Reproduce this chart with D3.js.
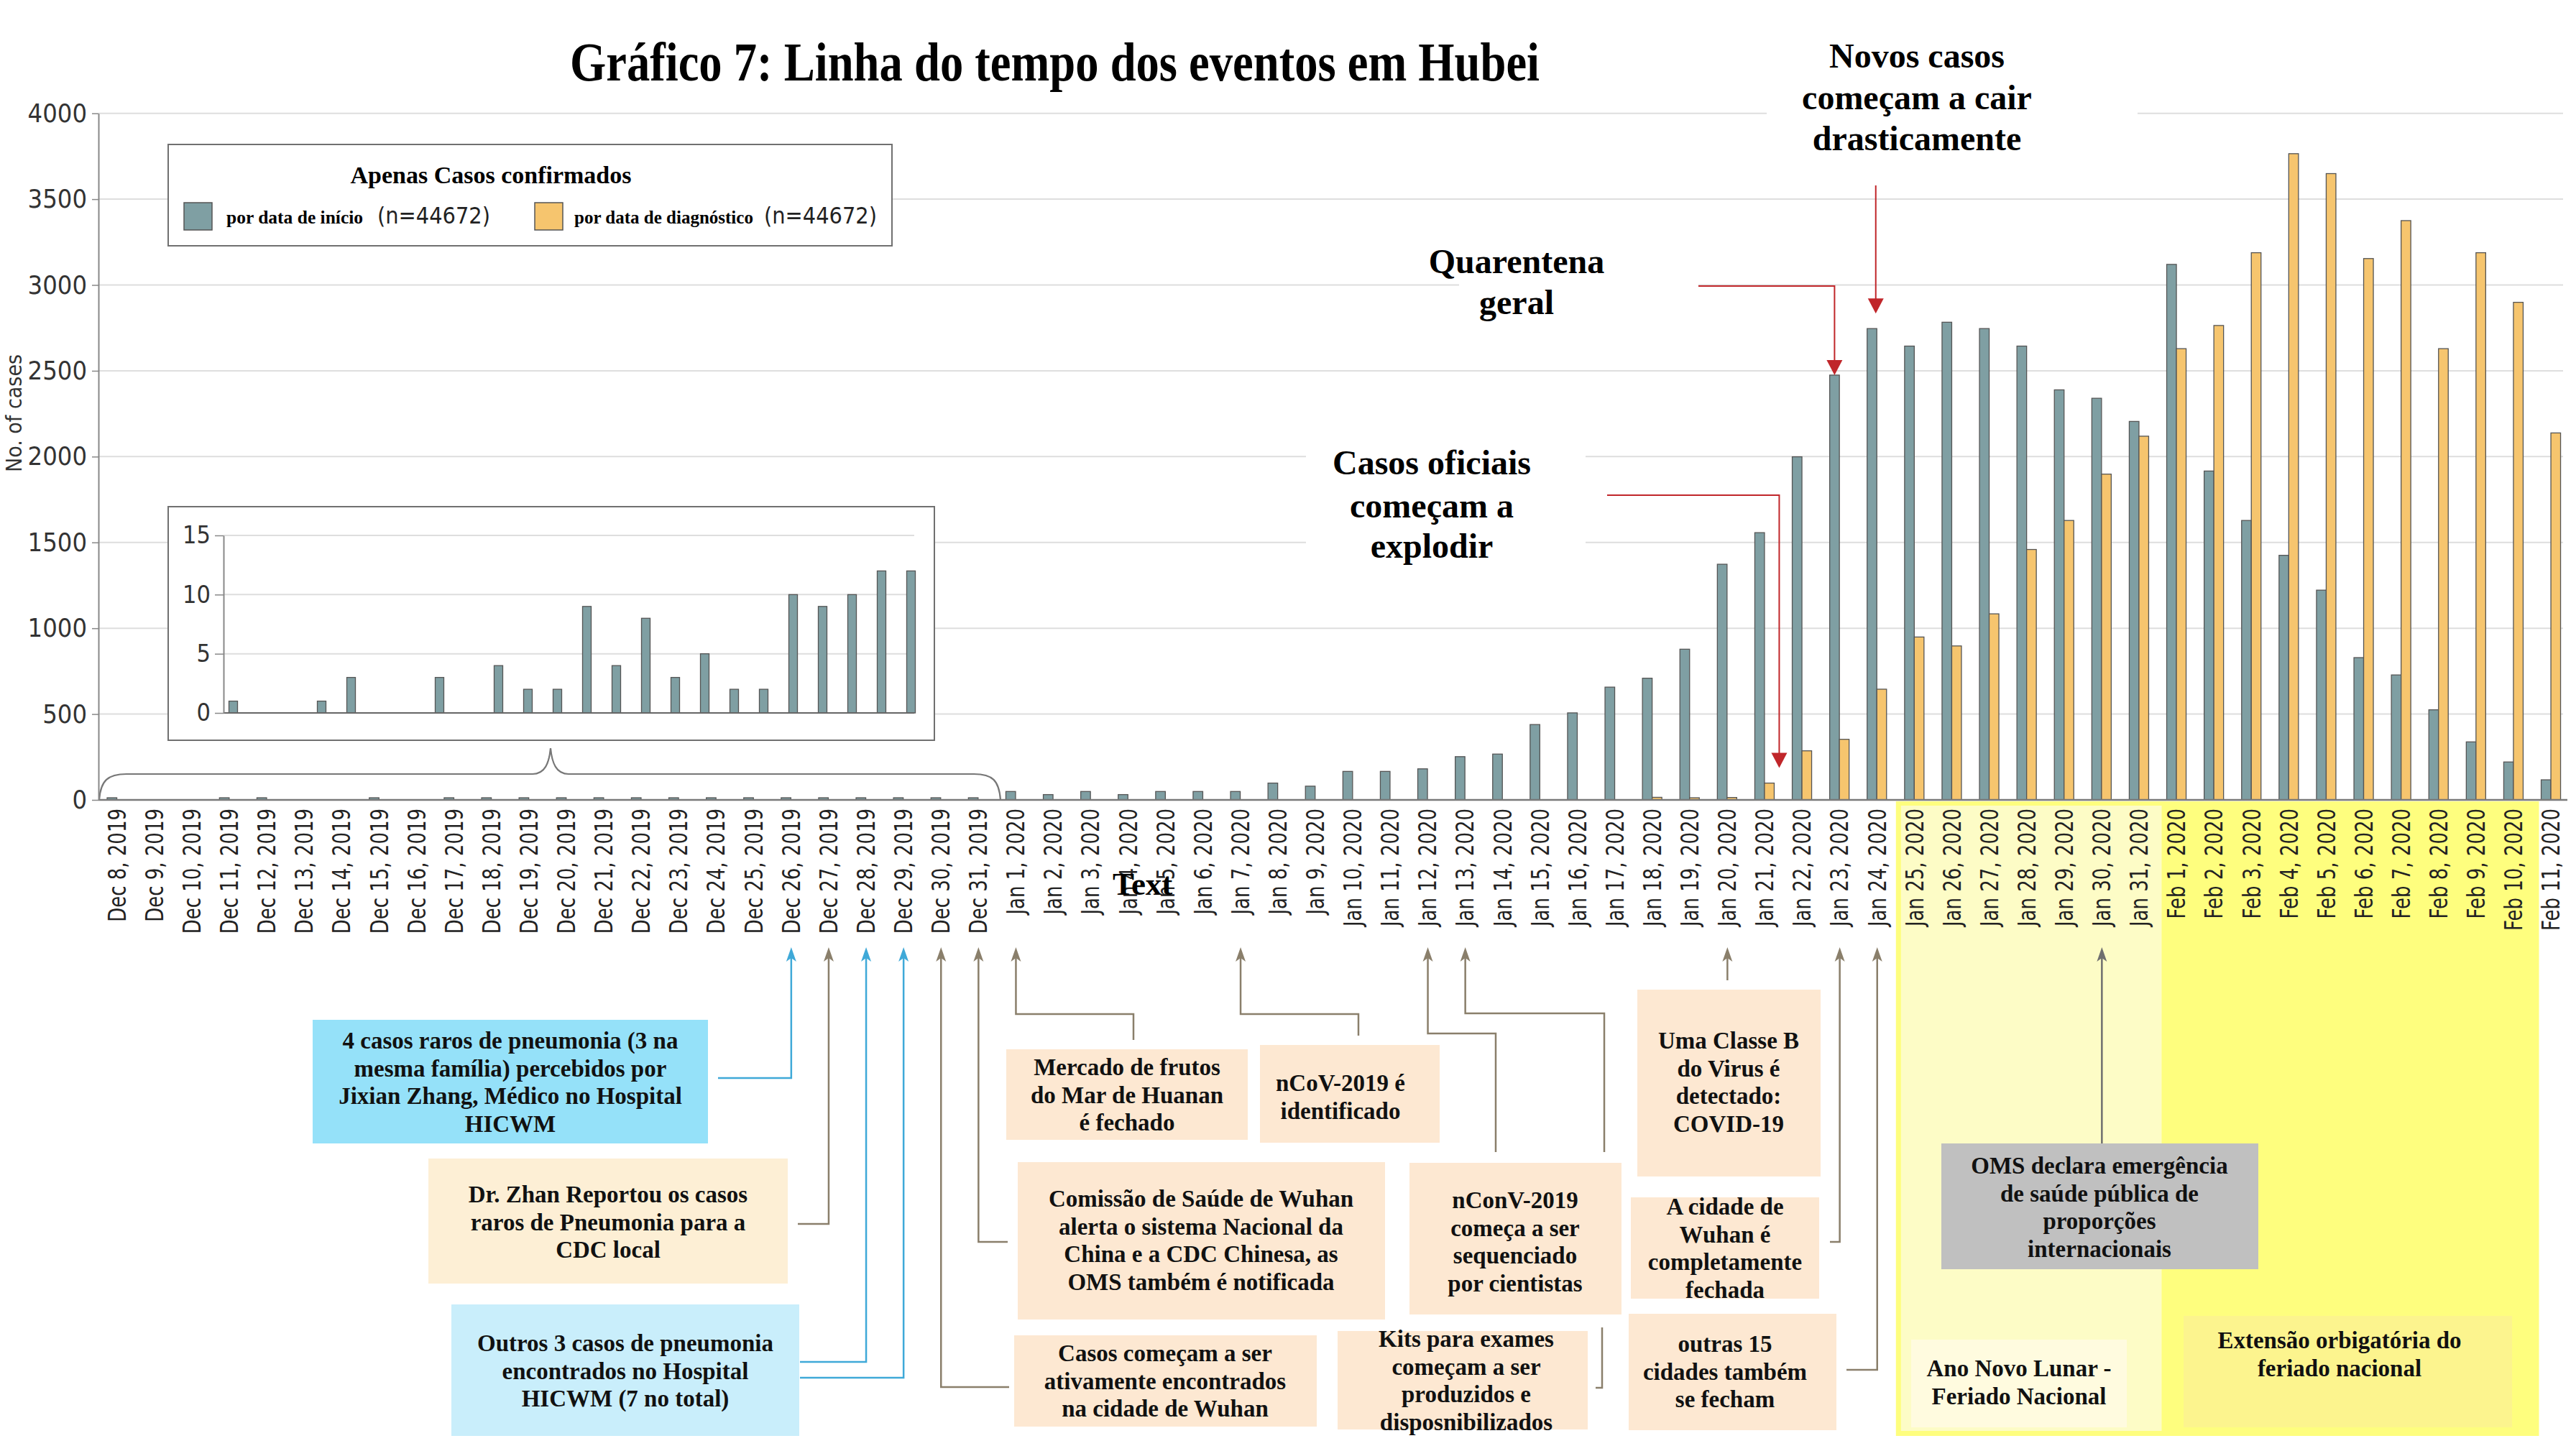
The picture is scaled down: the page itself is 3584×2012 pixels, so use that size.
<!DOCTYPE html>
<html><head><meta charset="utf-8">
<script src="https://cdn.jsdelivr.net/npm/d3@7"></script>
<style>body{margin:0;background:#fff}svg{display:block}</style>
</head><body><svg id="c" width="3584" height="2012"></svg>
<script>
// ---------------- DATA ----------------
const dates = [
 "Dec 8, 2019","Dec 9, 2019","Dec 10, 2019","Dec 11, 2019","Dec 12, 2019","Dec 13, 2019","Dec 14, 2019","Dec 15, 2019",
 "Dec 16, 2019","Dec 17, 2019","Dec 18, 2019","Dec 19, 2019","Dec 20, 2019","Dec 21, 2019","Dec 22, 2019","Dec 23, 2019",
 "Dec 24, 2019","Dec 25, 2019","Dec 26, 2019","Dec 27, 2019","Dec 28, 2019","Dec 29, 2019","Dec 30, 2019","Dec 31, 2019",
 "Jan 1, 2020","Jan 2, 2020","Jan 3, 2020","Jan 4, 2020","Jan 5, 2020","Jan 6, 2020","Jan 7, 2020","Jan 8, 2020",
 "Jan 9, 2020","Jan 10, 2020","Jan 11, 2020","Jan 12, 2020","Jan 13, 2020","Jan 14, 2020","Jan 15, 2020","Jan 16, 2020",
 "Jan 17, 2020","Jan 18, 2020","Jan 19, 2020","Jan 20, 2020","Jan 21, 2020","Jan 22, 2020","Jan 23, 2020","Jan 24, 2020",
 "Jan 25, 2020","Jan 26, 2020","Jan 27, 2020","Jan 28, 2020","Jan 29, 2020","Jan 30, 2020","Jan 31, 2020",
 "Feb 1, 2020","Feb 2, 2020","Feb 3, 2020","Feb 4, 2020","Feb 5, 2020","Feb 6, 2020","Feb 7, 2020","Feb 8, 2020",
 "Feb 9, 2020","Feb 10, 2020","Feb 11, 2020"
];
// confirmed cases by onset date
const onset = [
 1,0,0,1,3,0,0,3, 0,4,2,2,9,4,8,3, 5,2,2,10,9,10,12,12,
 49,31,49,31,49,49,49,98, 80,166,166,181,252,267,439,507,
 657,709,878,1373,1557,1999,2475,2746, 2644,2783,2746,2644,2389,2340,2205,
 3120,1916,1628,1425,1222,829,728,525, 338,221,117
];
// confirmed cases by diagnosis date
const diag = [
 0,0,0,0,0,0,0,0, 0,0,0,0,0,0,0,0, 0,0,0,0,0,0,0,0,
 0,0,0,0,0,0,0,0, 0,0,0,0,0,0,0,0,
 0,15,12,14,98,286,353,645, 949,897,1084,1459,1628,1898,2119,
 2629,2764,3188,3765,3649,3154,3375,2629, 3188,2899,2138
];
const yTicks = [0,500,1000,1500,2000,2500,3000,3500,4000];
const insetTicks = [0,5,10,15];
const insetDates = dates.slice(0,24);
const seriesKeys = ["onset","diag"];
const seriesNames = ["por data de início","por data de diagnóstico"];
const seriesN = ["(n=44672)","(n=44672)"];
const holidayLunar = ["Jan 25, 2020","Jan 31, 2020"];
const holidayExt = ["Feb 1, 2020","Feb 10, 2020"];

const title = "Gráfico 7: Linha do tempo dos eventos em Hubei";
const legendTitle = "Apenas Casos confirmados";
const yTitle = "No. of cases";

// ---------------- STYLE ----------------
const SERIF='"Liberation Serif","Times New Roman",serif';
const NARROW='"Liberation Sans Narrow","DejaVu Sans Condensed","Open Sans",sans-serif';
const SANS='"DejaVu Sans",Verdana,sans-serif';
const TEAL="#7f9fa3", ORANGE="#f6c56e", BAR_STROKE="#555";
const RED="#c0262a", BROWN="#8a7f6b", BLUE="#3fa9d8", GREYC="#6f6f6f";

const svg=d3.select("#c");
svg.append("rect").attr("width",3584).attr("height",2012).attr("fill","#fff");

const x=d3.scaleBand().domain(dates).range([137,137+52.1*66]).padding(0);
const cx=d=>x(d)+x.bandwidth()/2;
const y=d3.scaleLinear().domain([0,4000]).range([1113,157.7]);
const xs=d3.scaleBand().domain(seriesKeys).range([-14,13]);

// ---------------- HOLIDAY BACKGROUNDS ----------------
const bg=svg.append("g");
bg.append("rect").attr("x",x(holidayLunar[0])).attr("y",1115)
  .attr("width",x(holidayExt[1])+x.bandwidth()+9-x(holidayLunar[0])).attr("height",883).attr("fill","#fefe7e");
bg.append("rect").attr("x",x(holidayLunar[0])+7).attr("y",1121)
  .attr("width",x(holidayExt[0])+5-x(holidayLunar[0])-7).attr("height",870).attr("fill","#fdfcc6");

// ---------------- GRIDLINES ----------------
svg.append("g").selectAll("line").data(yTicks.filter(v=>v>0)).join("line")
  .attr("x1",137).attr("x2",3566).attr("y1",d=>y(d)).attr("y2",d=>y(d))
  .attr("stroke","#dedede").attr("stroke-width",2);

// white backgrounds behind headline annotations
[[2458,30,516,185],[2030,330,333,120],[1817,610,389,175]].forEach(r=>{
  svg.append("rect").attr("x",r[0]).attr("y",r[1]).attr("width",r[2]).attr("height",r[3]).attr("fill","#fff");
});

// ---------------- LEGEND ----------------
const lg=svg.append("g");
lg.append("rect").attr("x",234).attr("y",201).attr("width",1007).attr("height",141)
  .attr("fill","#fff").attr("stroke","#707070").attr("stroke-width",2);
lg.append("text").attr("x",683).attr("y",243).attr("text-anchor","middle").attr("dominant-baseline","central")
  .attr("font-family",SERIF).attr("font-weight","bold").attr("font-size",34).text(legendTitle);
const legPos=[{sx:256,tx:315,nx:525},{sx:744,tx:799,nx:1063}];
seriesKeys.forEach((k,i)=>{
  const p=legPos[i];
  lg.append("rect").attr("x",p.sx).attr("y",282).attr("width",39).attr("height",38)
    .attr("fill",i?ORANGE:TEAL).attr("stroke",BAR_STROKE).attr("stroke-width",1.5);
  lg.append("text").attr("x",p.tx).attr("y",302).attr("dominant-baseline","central")
    .attr("font-family",SERIF).attr("font-weight","bold").attr("font-size",i?25:25.5).text(seriesNames[i]);
  lg.append("text").attr("x",p.nx).attr("y",300).attr("dominant-baseline","central")
    .attr("font-family",NARROW).attr("font-size",32).attr("fill","#222")
    .attr("textLength",157).attr("lengthAdjust","spacingAndGlyphs").text(seriesN[i]);
});

// ---------------- INSET ----------------
const ins=svg.append("g");
ins.append("rect").attr("x",234).attr("y",705).attr("width",1066).attr("height",325)
  .attr("fill","#fff").attr("stroke","#707070").attr("stroke-width",2);
const xi=d3.scaleBand().domain(insetDates).range([304,1288]);
const yi=d3.scaleLinear().domain([0,15]).range([992,745]);
ins.append("g").selectAll("line").data(insetTicks.filter(v=>v>0)).join("line")
  .attr("x1",311).attr("x2",1272).attr("y1",d=>yi(d)).attr("y2",d=>yi(d))
  .attr("stroke","#dedede").attr("stroke-width",2);
ins.append("g").selectAll("rect").data(insetDates.map((d,i)=>({d,v:onset[i]})).filter(o=>o.v>0)).join("rect")
  .attr("x",o=>xi(o.d)+xi.bandwidth()/2-6).attr("width",12)
  .attr("y",o=>yi(o.v)).attr("height",o=>yi(0)-yi(o.v))
  .attr("fill",TEAL).attr("stroke",BAR_STROKE).attr("stroke-width",1.3);
ins.append("line").attr("x1",311).attr("x2",1272).attr("y1",yi(0)).attr("y2",yi(0)).attr("stroke","#666").attr("stroke-width",2);
const iax=ins.append("g").attr("transform","translate(311,0)")
  .call(d3.axisLeft(yi).tickValues(insetTicks).tickFormat(d3.format("d")).tickSize(12).tickPadding(6).tickSizeOuter(0));
iax.select(".domain").attr("stroke","#888").attr("stroke-width",2);
iax.selectAll(".tick line").attr("stroke","#888").attr("stroke-width",1.5);
iax.selectAll("text").attr("font-family",NARROW).attr("font-size",34).attr("fill","#333");

// brace
svg.append("path")
  .attr("d","M138,1113 C140,1086 150,1077 176,1077 L741,1077 C758,1077 764,1062 766,1041 C768,1062 774,1077 791,1077 L1355,1077 C1381,1077 1390,1086 1392,1113")
  .attr("fill","none").attr("stroke","#777").attr("stroke-width",2.2);

// ---------------- BARS ----------------
const rows=dates.map((d,i)=>({d,onset:onset[i],diag:diag[i]}));
seriesKeys.forEach((k,si)=>{
  svg.append("g").selectAll("rect").data(rows.filter(r=>r[k]>0)).join("rect")
    .attr("x",r=>cx(r.d)+xs(k)).attr("width",xs.bandwidth())
    .attr("y",r=>Math.min(y(r[k]),y(0)-3)).attr("height",r=>Math.max(y(0)-y(r[k]),3))
    .attr("fill",si?ORANGE:TEAL).attr("stroke",BAR_STROKE).attr("stroke-width",1.3);
});

// ---------------- AXES ----------------
svg.append("line").attr("x1",137).attr("x2",3572).attr("y1",y(0)).attr("y2",y(0)).attr("stroke","#7a7a7a").attr("stroke-width",2.5);
const yax=svg.append("g").attr("transform","translate(137,0)")
  .call(d3.axisLeft(y).tickValues(yTicks).tickFormat(d3.format("d")).tickSize(9).tickPadding(7).tickSizeOuter(0));
yax.select(".domain").attr("stroke","#888").attr("stroke-width",2);
yax.selectAll(".tick line").attr("stroke","#888").attr("stroke-width",1.5);
yax.selectAll("text").attr("font-family",NARROW).attr("font-size",36).attr("fill","#333");

const xax=svg.append("g").attr("transform","translate(0,1125)")
  .call(d3.axisBottom(x).tickSize(0).tickSizeOuter(0));
xax.select(".domain").remove();
xax.selectAll("text").attr("y",0).attr("dy",null).attr("x",0)
  .attr("transform","rotate(-90) scale(1,1.32)")
  .attr("text-anchor","end").attr("dominant-baseline","central")
  .attr("font-family",SANS).attr("font-size",26).attr("fill","#222");

svg.append("text").attr("transform","translate(20,575) rotate(-90) scale(1,1.1)")
  .attr("text-anchor","middle").attr("dominant-baseline","central")
  .attr("font-family",SANS).attr("font-size",27).attr("fill","#333").text(yTitle);

// ---------------- HEADLINE ANNOTATIONS ----------------
function lines(g,xc,ys,arr,size){
  arr.forEach((t,i)=>g.append("text").attr("x",xc).attr("y",ys[i]).attr("text-anchor","middle")
    .attr("dominant-baseline","central").attr("font-family",SERIF).attr("font-weight","bold")
    .attr("font-size",size).text(t));
}
const ann=svg.append("g");
lines(ann,2667,[77,135,192],["Novos casos","começam a cair","drasticamente"],48);
lines(ann,2110,[363,420],["Quarentena","geral"],48);
lines(ann,1992,[643,703,759],["Casos oficiais","começam a","explodir"],48);
function redArrow(x0,y0,pts,tipX,tipY){
  const p=d3.path(); p.moveTo(x0,y0); pts.forEach(q=>p.lineTo(q[0],q[1])); p.lineTo(tipX,tipY-18);
  ann.append("path").attr("d",p.toString()).attr("fill","none").attr("stroke",RED).attr("stroke-width",2);
  ann.append("path").attr("d",`M${tipX},${tipY} L${tipX-11},${tipY-21} L${tipX+11},${tipY-21} Z`).attr("fill",RED);
}
{
  const xN=cx("Jan 24, 2020")-2, tN=y(onset[47])-21;
  redArrow(xN,258,[],xN,tN);
  const xQ=cx("Jan 23, 2020")+xs("onset")+xs.bandwidth()/2, tQ=y(onset[46]);
  redArrow(2363,398,[[xQ,398]],xQ,tQ);
  const xC=cx("Jan 21, 2020")+20, tC=y(diag[44])-21;
  redArrow(2236,689,[[xC,689]],xC,tC);
}

// ---------------- EVENT BOXES ----------------
const boxes=[
 {r:[435,1419,985,1591],f:"#95e1f9",c:710,y0:1448,t:["4 casos raros de pneumonia (3 na","mesma família) percebidos por","Jixian Zhang, Médico no Hospital","HICWM"]},
 {r:[596,1612,1096,1786],f:"#fdefd5",c:846,y0:1662,t:["Dr. Zhan Reportou os casos","raros de Pneumonia para a","CDC local"]},
 {r:[628,1815,1112,1998],f:"#c9eefb",c:870,y0:1869,t:["Outros 3 casos de pneumonia","encontrados no Hospital","HICWM (7 no total)"]},
 {r:[1400,1460,1736,1586],f:"#fde8d2",c:1568,y0:1485,t:["Mercado de frutos","do Mar de Huanan","é fechado"]},
 {r:[1753,1454,2003,1590],f:"#fde8d2",c:1865,y0:1507,t:["nCoV-2019 é","identificado"]},
 {r:[1416,1617,1927,1836],f:"#fde8d2",c:1671,y0:1668,t:["Comissão de Saúde de Wuhan","alerta o sistema Nacional da","China e a CDC Chinesa, as","OMS também é notificada"]},
 {r:[1961,1618,2256,1829],f:"#fde8d2",c:2108,y0:1670,t:["nConV-2019","começa a ser","sequenciado","por cientistas"]},
 {r:[1411,1858,1832,1985],f:"#fde8d2",c:1621,y0:1883,t:["Casos começam a ser","ativamente encontrados","na cidade de Wuhan"]},
 {r:[1861,1852,2209,1989],f:"#fde8d2",c:2040,y0:1863,t:["Kits para exames","começam a ser","produzidos e","disposnibilizados"]},
 {r:[2278,1377,2533,1637],f:"#fde8d2",c:2405,y0:1448,t:["Uma Classe B","do Virus é","detectado:","COVID-19"]},
 {r:[2269,1666,2531,1807],f:"#fde8d2",c:2400,y0:1679,t:["A cidade de","Wuhan é","completamente","fechada"]},
 {r:[2266,1828,2555,1990],f:"#fde8d2",c:2400,y0:1870,t:["outras 15","cidades também","se fecham"]},
 {r:[2701,1591,3142,1766],f:"#c0c0c0",c:2921,y0:1622,t:["OMS declara emergência","de saúde pública de","proporções","internacionais"]},
 {r:[2659,1864,2959,1986],f:"#fffbdf",c:2809,y0:1904,t:["Ano Novo Lunar -","Feriado Nacional"]},
 {r:[3038,1831,3495,1986],f:"#fcf48e",c:3255,y0:1865,t:["Extensão orbigatória do","feriado nacional"]}
];
// connectors: date, colour, waypoints (null x = arrow x; "M" starts a new sub-path)
const links=[
 {d:"Dec 26, 2019",c:BLUE, p:[[null,1500],[999,1500]]},
 {d:"Dec 27, 2019",c:BROWN,p:[[null,1703],[1110,1703]]},
 {d:"Dec 28, 2019",c:BLUE, p:[[null,1895],[1113,1895]]},
 {d:"Dec 29, 2019",c:BLUE, p:[[null,1917],[1113,1917]]},
 {d:"Dec 30, 2019",c:BROWN,p:[[null,1930],[1404,1930]]},
 {d:"Dec 31, 2019",c:BROWN,p:[[null,1728],[1402,1728]]},
 {d:"Jan 1, 2020", c:BROWN,p:[[null,1411],[1577,1411],[1577,1447]]},
 {d:"Jan 7, 2020", c:BROWN,p:[[null,1411],[1890,1411],[1890,1441]]},
 {d:"Jan 12, 2020",c:BROWN,p:[[null,1438],[2081,1438],[2081,1603]]},
 {d:"Jan 13, 2020",c:BROWN,p:[[null,1410],[2232,1410],[2232,1603],"M",[2229,1847],[2229,1931],[2220,1931]]},
 {d:"Jan 20, 2020",c:BROWN,p:[[null,1364]]},
 {d:"Jan 23, 2020",c:BROWN,p:[[null,1728],[2546,1728]]},
 {d:"Jan 24, 2020",c:BROWN,p:[[null,1906],[2569,1906]]},
 {d:"Jan 30, 2020",c:GREYC,p:[[null,1591]]}
];
const ev=svg.append("g");
links.forEach(l=>{
  const ax=cx(l.d), tip=1318;
  let s=`M${ax},${tip+12}`, newSub=false;
  l.p.forEach(q=>{
    if(q==="M"){newSub=true;return;}
    const px=q[0]===null?ax:q[0];
    s+=(newSub?"M":"L")+px+","+q[1]; newSub=false;
  });
  ev.append("path").attr("d",s).attr("fill","none").attr("stroke",l.c).attr("stroke-width",2.5);
  ev.append("path").attr("d",`M${ax},${tip} L${ax-7},${tip+20} L${ax},${tip+15} L${ax+7},${tip+20} Z`).attr("fill",l.c);
});
boxes.forEach(b=>{
  ev.append("rect").attr("x",b.r[0]).attr("y",b.r[1]).attr("width",b.r[2]-b.r[0]).attr("height",b.r[3]-b.r[1]).attr("fill",b.f);
  b.t.forEach((t,i)=>ev.append("text").attr("x",b.c).attr("y",b.y0+i*38.5).attr("text-anchor","middle")
    .attr("dominant-baseline","central").attr("font-family",SERIF).attr("font-weight","bold")
    .attr("font-size",33).attr("fill","#111").text(t));
});

// stray label present in the original
svg.append("text").attr("x",1548).attr("y",1245).attr("font-family",SERIF).attr("font-weight","bold")
  .attr("font-size",45).text("Text");

// ---------------- TITLE ----------------
svg.append("text").attr("x",793).attr("y",112).attr("font-family",SERIF).attr("font-weight","bold")
  .attr("font-size",76).attr("textLength",1349).attr("lengthAdjust","spacingAndGlyphs").text(title);
</script></body></html>
